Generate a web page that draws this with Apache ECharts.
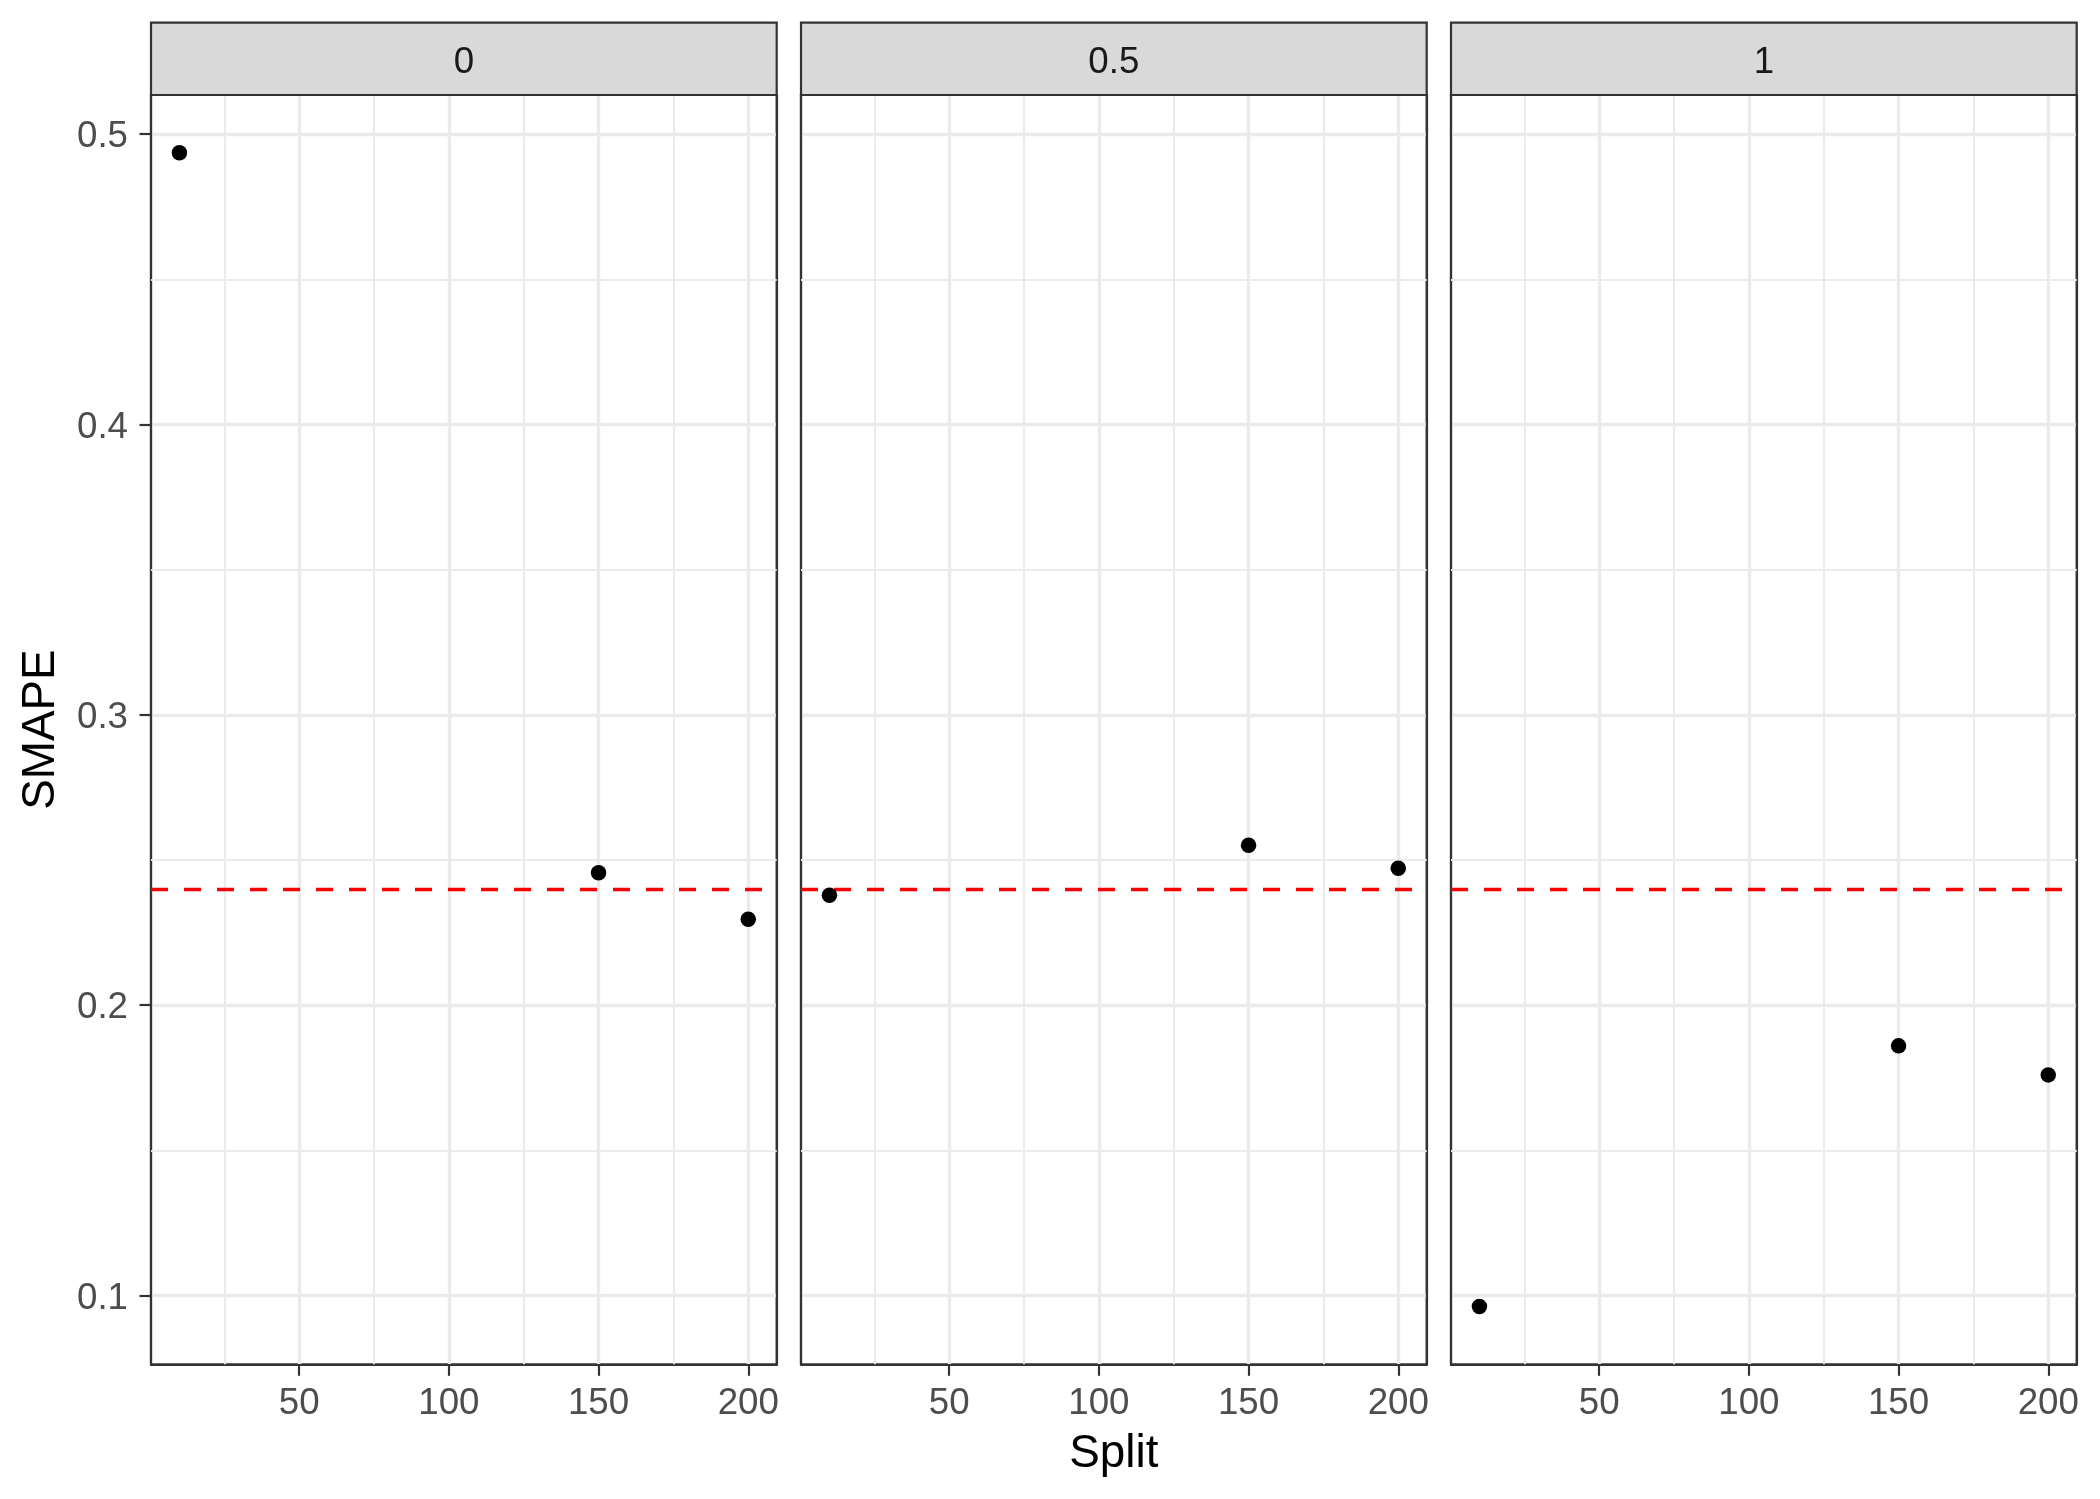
<!DOCTYPE html>
<html>
<head>
<meta charset="utf-8">
<script src="https://cdn.jsdelivr.net/npm/echarts@6/dist/echarts.min.js"></script>
<style>
html,body{margin:0;padding:0;background:#fff;}
#chart{width:2100px;height:1499px;}
</style>
</head>
<body>
<div id="chart"></div>
<script>
// ---- data ----
const facetLabels = ['0', '0.5', '1'];
const splits = [10, 150, 200];
const smape_0 = [0.4936, 0.2456, 0.2296];
const smape_05 = [0.2379, 0.2551, 0.2472];
const smape_1 = [0.0962, 0.1860, 0.1760];
const hlineValue = 0.241;
const xTicks = [50, 100, 150, 200];
const xMinorTicks = [25, 75, 125, 175];
const yTicks = [0.1, 0.2, 0.3, 0.4, 0.5];
const yMinorTicks = [0.15, 0.25, 0.35, 0.45];
const panels = [smape_0, smape_05, smape_1];

// ---- layout ----
const FONT = '"Liberation Sans", Arial, sans-serif';
const panelLeft = [151, 801, 1451];
const panelWidth = 625.7;
const panelTop = 95;
const panelHeight = 1269.3;
const stripTop = 22.7;

// ggplot-like 5% expansion
const allY = panels.flat();
const yLo = Math.min(...allY), yHi = Math.max(...allY);
const yMin = yLo - 0.05 * (yHi - yLo), yMax = yHi + 0.05 * (yHi - yLo);
const xLo = Math.min(...splits), xHi = Math.max(...splits);
const xMin = xLo - 0.05 * (xHi - xLo), xMax = xHi + 0.05 * (xHi - xLo);

const grid = [], xAxis = [], yAxis = [], series = [], graphic = [];

panels.forEach((vals, i) => {
  grid.push({
    left: panelLeft[i], top: panelTop, width: panelWidth, height: panelHeight,
    show: true, borderColor: '#333333', borderWidth: 2.2, backgroundColor: '#ffffff'
  });
  xAxis.push({
    type: 'value', gridIndex: i, min: xMin, max: xMax,
    axisLine: { show: true, onZero: false, lineStyle: { color: '#333333', width: 2.2 } },
    axisTick: { show: true, length: 11.5, lineStyle: { color: '#333333', width: 2.2 }, customValues: xTicks },
    axisLabel: { show: true, customValues: xTicks, color: '#4D4D4D', fontSize: 36.7, fontFamily: FONT, margin: 21 },
    splitLine: { show: true, lineStyle: { color: '#EBEBEB', width: 3.4 } },
    minorSplitLine: { show: false }
  });
  yAxis.push({
    type: 'value', gridIndex: i, min: yMin, max: yMax,
    axisLine: { show: true, onZero: false, lineStyle: { color: '#333333', width: 2.2 } },
    axisTick: { show: i === 0, length: 11.5, lineStyle: { color: '#333333', width: 2.2 }, customValues: yTicks },
    axisLabel: { show: i === 0, customValues: yTicks, margin: 23,
                 formatter: v => '{t|' + String(v) + '}',
                 rich: { t: { color: '#4D4D4D', fontSize: 36.7, fontFamily: FONT, padding: [6, 0, 0, 0] } } },
    splitLine: { show: true, lineStyle: { color: '#EBEBEB', width: 3.4 } },
    minorSplitLine: { show: false }
  });
  // right border axis
  yAxis.push({
    type: 'value', gridIndex: i, min: yMin, max: yMax, position: 'right',
    axisLine: { show: true, onZero: false, lineStyle: { color: '#333333', width: 2.2 } },
    axisTick: { show: false }, axisLabel: { show: false }, splitLine: { show: false }
  });
  const yIdx = i * 2;
  // minor gridlines
  series.push({
    type: 'line', xAxisIndex: i, yAxisIndex: yIdx, data: [], silent: true, z: 1,
    markLine: {
      silent: true, symbol: 'none', z: 1, animation: false,
      label: { show: false },
      lineStyle: { color: '#EBEBEB', width: 2, type: 'solid' },
      emphasis: { disabled: true },
      data: [
        ...xMinorTicks.map(v => ({ xAxis: v })),
        ...yMinorTicks.map(v => ({ yAxis: v }))
      ]
    }
  });
  // points + reference line
  series.push({
    type: 'scatter', xAxisIndex: i, yAxisIndex: yIdx, z: 4,
    symbol: 'circle', symbolSize: 15.5,
    itemStyle: { color: '#000000', opacity: 1 },
    emphasis: { disabled: true },
    data: splits.map((x, k) => [x, vals[k]]),
    markLine: {
      silent: true, symbol: 'none', z: 3, animation: false,
      label: { show: false },
      lineStyle: { color: '#FF0000', width: 3.3, type: [17, 16], opacity: 1 },
      emphasis: { disabled: true },
      data: [{ yAxis: hlineValue }]
    }
  });
  // strip
  graphic.push({
    type: 'rect', z: 100,
    shape: { x: panelLeft[i], y: stripTop, width: panelWidth, height: panelTop - stripTop },
    style: { fill: '#D9D9D9', stroke: '#333333', lineWidth: 2.2 }
  });
  graphic.push({
    type: 'text', z: 101,
    x: panelLeft[i] + panelWidth / 2, y: (stripTop + panelTop) / 2 + 4,
    style: { text: facetLabels[i], fontSize: 36.7, fontFamily: FONT, fill: '#1A1A1A',
             align: 'center', verticalAlign: 'middle' }
  });
});

// axis titles
graphic.push({
  type: 'text', z: 101,
  x: panelLeft[1] + panelWidth / 2, y: 1454,
  style: { text: 'Split', fontSize: 45.8, fontFamily: FONT, fill: '#000000', align: 'center', verticalAlign: 'middle' }
});
graphic.push({
  type: 'text', z: 101,
  x: 41, y: panelTop + panelHeight / 2, rotation: Math.PI / 2,
  style: { text: 'SMAPE', fontSize: 45.8, fontFamily: FONT, fill: '#000000', align: 'center', verticalAlign: 'middle' }
});

const chart = echarts.init(document.getElementById('chart'), null, { renderer: 'canvas' });
chart.setOption({
  animation: false,
  backgroundColor: '#ffffff',
  grid, xAxis, yAxis, series, graphic
});
</script>
</body>
</html>
